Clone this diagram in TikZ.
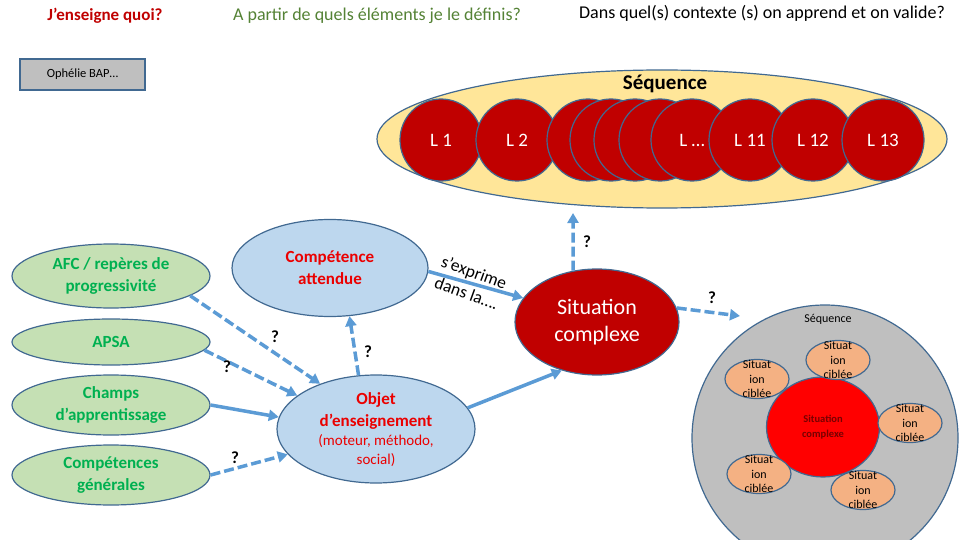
\documentclass[tikz,border=0pt]{standalone}
\usepackage{fontspec}
\setmainfont{Carlito}
\usetikzlibrary{positioning}
\usetikzlibrary{shapes.geometric}
\usetikzlibrary{arrows.meta}

\definecolor{bord}{RGB}{65,105,145}
\definecolor{fleche}{RGB}{91,155,213}
\definecolor{rougefonce}{RGB}{192,0,0}
\definecolor{jaune}{RGB}{255,230,153}
\definecolor{bleuclair}{RGB}{189,215,238}
\definecolor{vertclair}{RGB}{197,224,180}
\definecolor{vert}{RGB}{0,176,80}
\definecolor{vertolive}{RGB}{84,130,53}
\definecolor{gris}{RGB}{191,191,191}
\definecolor{orangeclair}{RGB}{244,177,131}
\definecolor{rougetexte}{RGB}{235,0,0}
\definecolor{rougesombre}{RGB}{120,0,0}

\newcommand{\taille}[2]{\fontsize{#1}{#2}\selectfont}

\begin{document}
\begin{tikzpicture}[x=1pt,y=-1pt,
	lecon/.style={draw=bord, circle, fill=rougefonce, minimum size=82pt, inner sep=0pt, line width=1.2pt, text=white, font=\taille{19}{21}},
	ovale/.style={draw=bord, ellipse, inner sep=0pt, line width=1.2pt},
	vertov/.style={ovale, fill=vertclair, minimum width=198pt, text=vert, font=\bfseries\taille{17}{22}, align=center},
	bleuov/.style={ovale, fill=bleuclair, text=rougetexte, font=\bfseries\taille{17}{22}, align=center},
	cible/.style={ovale, fill=orangeclair, minimum width=64pt, minimum height=39pt},
	cibletxt/.style={font=\taille{12}{14.5}, align=center, inner sep=0pt},
	fl/.style={draw=fleche, line width=3.5pt, -{Triangle[length=10pt,width=11pt]}},
	pointille/.style={fl, dash pattern=on 10pt off 4pt},
	quest/.style={font=\bfseries\taille{17}{17}, inner sep=1pt}]
	\useasboundingbox (0,0) rectangle (960,540);
	\clip (0,0) rectangle (960,540);

	% titres
	\node (titre1) at (105,16) [text=rougefonce, font=\bfseries\taille{17}{18}] {J’enseigne quoi?};
	\node (titre2) at (377,16) [text=vertolive, font=\taille{18}{19}] {A partir de quels éléments je le définis?};
	\node (titre3) at (762,13) [font=\taille{18}{19}] {Dans quel(s) contexte (s) on apprend et on valide?};
	\node (auteur) at (82.5,74.5) [draw=bord, fill=gris, line width=1.5pt, minimum width=125pt, minimum height=31pt, font=\taille{12.5}{14}] {Ophélie BAP…};

	% sequence de lecons
	\node (seq) [ovale, fill=jaune, minimum width=570pt, minimum height=138pt] at (662,139) {};
	\node (l1) [lecon] at (441,140) {L 1};
	\node (l2) [lecon] at (517,140) {L 2};
	\node (s1) [lecon] at (588,140) {};
	\node (s2) [lecon] at (611,140) {};
	\node (s3) [lecon] at (635,140) {};
	\node (s4) [lecon] at (660,140) {};
	\node (lx) [lecon] at (692,140) {L …};
	\node (l11) [lecon] at (750,140) {L 11};
	\node (l12) [lecon] at (813,140) {L 12};
	\node (l13) [lecon] at (883,140) {L 13};
	\node (seqtxt) at (665,84) [font=\bfseries\taille{21}{22}] {Séquence};

	% elements de depart
	\node (afc) [vertov, minimum height=64pt] at (111,276) {AFC / repères de\\progressivité};
	\node (apsa) [vertov, minimum height=46pt] at (111,342) {APSA};
	\node (champs) [vertov, minimum height=60pt] at (111,405) {Champs\\d’apprentissage};
	\node (compg) [vertov, minimum height=60pt] at (111,475) {Compétences\\générales};

	\node (compa) [bleuov, minimum width=196pt, minimum height=97pt] at (330,268) {Compétence\\attendue};
	\node (objet) [bleuov, minimum width=198pt, minimum height=108pt] at (376,429) {};
	\node (objettxt) [text=rougetexte, font=\bfseries\taille{17}{22}, align=center, inner sep=0pt] at (376,430) {Objet\\d’enseignement\\[-3pt]{\mdseries\taille{15}{19}(moteur, méthodo,}\\[-3pt]{\mdseries\taille{15}{19}social)}};
	\node (sit) [ovale, fill=rougefonce, minimum width=164pt, minimum height=106pt, text=white, font=\taille{22}{27}, align=center] at (597,322) {Situation\\complexe};

	% sequence en situations
	\node (grand) [ovale, fill=gris, minimum size=266pt] at (825,438) {};
	\node (seq2) at (828,319) [font=\taille{12}{13}] {Séquence};
	\node (sitc) [ovale, fill=red, minimum width=113pt, minimum height=100pt, text=rougesombre, font=\bfseries\taille{10.5}{15}, align=center] at (823,427) {Situation\\complexe};
	\node (c1) [cible] at (757,379) {};
	\node (c2) [cible] at (838,360) {};
	\node (c3) [cible] at (910,423) {};
	\node (c4) [cible] at (759,474) {};
	\node (c5) [cible] at (863,490) {};
	\node (t1) [cibletxt] at (c1) {Situat\\ion\\ciblée};
	\node (t2) [cibletxt] at (c2) {Situat\\ion\\ciblée};
	\node (t3) [cibletxt] at (c3) {Situat\\ion\\ciblée};
	\node (t4) [cibletxt] at (c4) {Situat\\ion\\ciblée};
	\node (t5) [cibletxt] at (c5) {Situat\\ion\\ciblée};

	% fleches
	\coordinate (versseq) at (573,213);
	\coordinate (versgrand) at (740,316);
	\draw [pointille] (afc.-14) -- (objet.141);
	\draw [pointille] (apsa.-5) -- (objet.157);
	\draw [fl] (champs.east) -- (objet.173);
	\draw [pointille] (compg.east) -- (objet.196);
	\draw [pointille] (objet.108) -- (compa.-68);
	\draw [fl] (compa.-2) -- (sit.162);
	\draw [fl] (objet.13) -- (sit.234);
	\draw [pointille] (sit.115) -- (versseq);
	\draw [pointille] (sit.10) -- (versgrand);

	\node (q1) [quest] at (275,337) {?};
	\node (q2) [quest] at (227,367) {?};
	\node (q3) [quest] at (235,458) {?};
	\node (q4) [quest] at (368,352) {?};
	\node (q5) [quest] at (587,242) {?};
	\node (q6) [quest] at (712,298) {?};
	\node (expr) at (470.5,282.5) [rotate=-20, align=center, inner sep=0pt, font=\taille{17.5}{22}] {s’exprime\\dans la….};
\end{tikzpicture}
\end{document}
